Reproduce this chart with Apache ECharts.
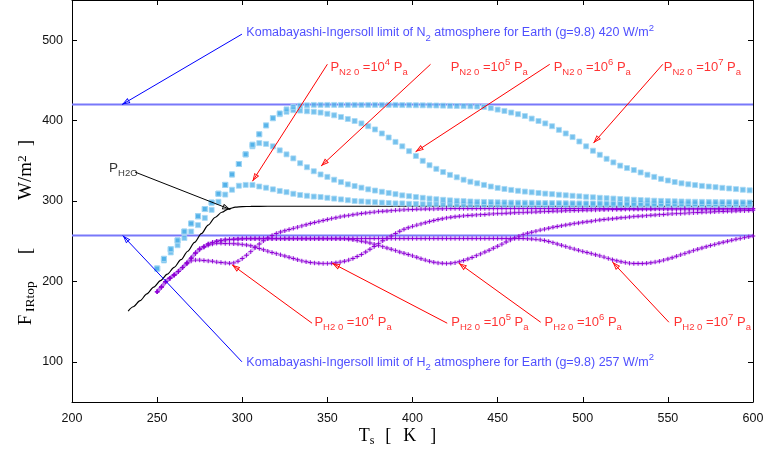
<!DOCTYPE html>
<html><head><meta charset="utf-8">
<script src="https://cdn.jsdelivr.net/npm/echarts@6/dist/echarts.min.js"></script>
<style>html,body{margin:0;padding:0;background:#fff}#c{width:767px;height:451px}</style>
</head><body><div id="c"></div>
<script>
// ---------------- DATA ----------------
const X_MIN = 200, X_MAX = 600, X_STEP = 50;
const Y_MIN = 50, Y_MAX = 550;
const Y_TICKS = [100, 200, 300, 400, 500];

// Komabayashi-Ingersoll limits (W/m^2)
const KI_N2 = 420;
const KI_H2 = 257;

// N2 atmosphere curves (cyan squares)
const TS_N2 = [250,254,258,262,266,270,274,278,282,286,290,294,298,302,306,310,314,318,322,326,
330,334,338,342,346,350,354,358,362,366,370,374,378,382,386,390,394,398,402,406,
410,414,418,422,426,430,434,438,442,446,450,454,458,462,466,470,474,478,482,486,
490,494,498,502,506,510,514,518,522,526,530,534,538,542,546,550,554,558,562,566,
570,574,578,582,586,590,594,598];
const N2_1E4 = [216,226,236,245,254,262,270,279,289,299,
308,314,319,320,320,318,316.5,314.5,312.5,311,
309,307.5,306.5,305.5,305,304,303,302,301,300,
299.5,299,298.5,298,297.5,297,297,296.5,296.5,296,
296,296,295.8,295.7,295.6,295.5,295.5,295.5,295.5,295.5,
295.5,295.5,295.5,295.5,295.5,295.5,295.4,295.4,295.4,295.4,
295.4,295.4,295.4,295.4,295.4,295.4,295.4,295.4,295.3,295.3,
295.3,295.3,295.3,295.3,295.3,295.3,295.3,295.3,295.2,295.2,
295.2,295.2,295.2,295.2,295.2,295.2,295.2,295.2];
const N2_1E5 = [216,228,240,251,262,272,281,290,298,309,
320,333,346,358,368,372,371,368,363,358,
353,347,342,337,333,330,326.5,323.5,320.7,318.6,
316.6,314.5,313,311.5,310,308.5,307,306,305,304,
303,302.2,301.5,300.8,300.2,299.8,299.4,299,298.8,298.6,
298.4,298.2,298,297.9,297.8,297.7,297.6,297.5,297.4,297.3,
297.2,297.1,297,297,296.9,296.9,296.8,296.8,296.7,296.7,
296.6,296.6,296.5,296.5,296.5,296.4,296.4,296.4,296.3,296.3,
296.3,296.2,296.2,296.2,296.1,296.1,296.1,296];
const N2_1E6 = [216,228,240,251,262,272,281,290,298,309,
320,333,346,358,370,383,394,403,408,411,
413,412.5,411.6,411,410,408.5,406.6,404.5,402,399.5,
396.5,393,389,384,379,373.5,368,362,356,350,
344.5,340,336,332.5,329.5,326.5,324,322,320,318,
316.3,315,313.8,312.7,311.7,310.8,310,309.2,308.5,307.8,
307.1,306.5,305.8,305.2,304.6,304,303.5,303,302.5,302,
301.6,301.2,300.8,300.4,300.1,299.8,299.6,299.4,299.2,299,
298.9,298.8,298.7,298.6,298.5,298.4,298.3,298.2];
const N2_1E7 = [216,228,240,251,262,272,281,290,298,309,
320,333,346,358,370,383,394,403,409,414,
417,418.5,419,419.5,419.5,419.5,419.5,419.5,419.5,419.5,
419.5,419.5,419.5,419.5,419.5,419.5,419.3,419.2,419.1,419,
418.9,418.8,418.6,418.4,418.2,418,417.8,417.5,417,415.5,
413.7,412,410,408,405.7,402.5,399.5,396.5,393,388.5,
384,379.5,374,368,362.5,357.5,352.5,348,344,341,
338.5,335.5,332.7,330,327.5,325.5,323.6,322,320.8,319.8,
318.8,318,317.2,316.4,315.6,314.8,314,313.3];

// H2O atmosphere curves (purple crosses)
const TS_H2O = [250,252.5,255,257.5,260,262.5,265,267.5,270,272.5,275,277.5,280,282.5,285,287.5,290,292.5,295,297.5,
300,302.5,305,307.5,310,312.5,315,317.5,320,322.5,325,327.5,330,332.5,335,337.5,340,342.5,345,347.5,
350,352.5,355,357.5,360,362.5,365,367.5,370,372.5,375,377.5,380,382.5,385,387.5,390,392.5,395,397.5,
400,402.5,405,407.5,410,412.5,415,417.5,420,422.5,425,427.5,430,432.5,435,437.5,440,442.5,445,447.5,
450,452.5,455,457.5,460,462.5,465,467.5,470,472.5,475,477.5,480,482.5,485,487.5,490,492.5,495,497.5,
500,502.5,505,507.5,510,512.5,515,517.5,520,522.5,525,527.5,530,532.5,535,537.5,540,542.5,545,547.5,
550,552.5,555,557.5,560,562.5,565,567.5,570,572.5,575,577.5,580,582.5,585,587.5,590,592.5,595,597.5,600];
const H2O_1E4 = [187,193,199.5,204,208,212.5,217.5,222,225.5,226.5,
226.5,226,225.5,225,224,223.5,223,222.5,223,225,
228.5,232.5,237,242,246.5,250.5,254,257,259.5,261.5,
263,264.5,266,267.5,269,270.5,272,273.3,274.6,275.8,
277,278.1,279.2,280.3,281.3,282.1,282.9,283.7,284.4,285,
285.6,286.2,286.8,287.2,287.6,288,288.4,288.7,289,289.3,
289.5,289.7,289.9,290,290.1,290.2,290.3,290.4,290.5,290.6,
290.6,290.6,290.6,290.6,290.6,290.6,290.6,290.6,290.6,290.6,
290.6,290.6,290.6,290.6,290.6,290.6,290.6,290.6,290.6,290.7,
290.7,290.7,290.7,290.7,290.7,290.7,290.7,290.7,290.7,290.7,
290.7,290.7,290.7,290.7,290.7,290.7,290.7,290.7,290.7,290.7,
290.7,290.7,290.7,290.8,290.8,290.8,290.8,290.8,290.8,290.8,
290.8,290.8,290.8,290.8,290.8,290.8,290.8,290.8,290.8,290.8,
290.8,290.8,290.8,290.8,290.8,290.8,290.8,290.8,290.8,290.8,290.8];
const H2O_1E5 = [187,193,199.5,204,208,212.5,217.5,223,229,234.5,
239.5,242.5,245,246.5,247.3,247.4,247.2,247,246.8,246.5,
246,245.3,244.3,242.8,241,239.3,237.6,236,234.5,233,
231.5,230,228.5,227,225.5,224.5,223.6,223,222.6,222.4,
222.4,222.6,223.2,224,225,226.5,228.5,231,233.5,236.5,
240,243.5,247,250.5,253.5,256.5,259.5,262.3,264.8,266.8,
268.5,270,271.5,273,274.5,275.8,277,278,279,279.8,
280.5,281,281.5,281.9,282.3,282.7,283,283.3,283.7,284,
284.3,284.6,284.8,285.1,285.3,285.5,285.8,286,286.2,286.4,
286.6,286.8,287,287.2,287.4,287.6,287.8,288,288.1,288.3,
288.5,288.6,288.7,288.9,289,289.1,289.3,289.4,289.5,289.5,
289.6,289.6,289.7,289.7,289.8,289.8,289.8,289.9,289.9,289.9,
289.9,289.9,289.9,289.9,289.9,289.9,289.9,289.9,289.9,290,
290,290,290,290,290,290,290,290,290,290,290];
const H2O_1E6 = [187,193,199.5,204,208,212.5,217.5,223,229,235.5,
240.5,243.5,246.5,248.5,250,251,251.7,252.2,252.5,252.8,
253,253,253,253,253,253,253,253,253,253,
253,253,253,253,253,253,253,253,253,253,
253,253,253,253,253,252.5,251.8,251,250,249,
247.8,246.3,244.8,243.2,241.6,240,238.3,236.6,235,233.4,
231.8,230,228.2,226.5,225,223.8,223,222.5,222.4,222.6,
223.3,224.4,226,227.8,229.8,232,234.2,236.5,238.8,241.3,
243.8,246.3,249,251.6,254,256.3,258.2,259.8,261.2,262.5,
263.8,265,266.2,267.3,268.3,269.3,270.2,271.1,271.9,272.7,
273.5,274.2,274.9,275.6,276.3,276.9,277.5,278,278.6,279.1,
279.6,280.1,280.6,281,281.4,281.8,282.2,282.6,283,283.3,
283.7,284,284.3,284.6,284.9,285.2,285.5,285.7,286,286.2,
286.4,286.6,286.8,287,287.2,287.4,287.6,287.8,288,288.1,288.3];
const H2O_1E7 = [187,193,199.5,204,208,212.5,217.5,223,229,235.5,
240.5,243.5,246.5,248.5,250,251,251.7,252.2,252.5,252.8,
253,253.3,253.3,253.3,253.3,253.3,253.3,253.3,253.3,253.3,
253.3,253.3,253.3,253.3,253.3,253.3,253.3,253.3,253.3,253.3,
253.3,253.3,253.3,253.3,253.3,253.3,253.3,253.3,253.3,253.3,
253.3,253.3,253.3,253.3,253.3,253.3,253.3,253.3,253.3,253.3,
253.3,253.3,253.3,253.3,253.3,253.3,253.3,253.3,253.3,253.3,
253.3,253.3,253.3,253.3,253.3,253.3,253.3,253.3,253.3,253.3,
253.3,253.3,253.3,253.3,253.3,253.3,253.3,253,252.7,252.3,
251.7,250.8,249.6,248.2,246.6,245,243.3,241.7,240.2,238.7,
237.3,236,234.6,233.2,231.8,230.2,228.6,227,225.6,224.4,
223.4,222.7,222.3,222.2,222.3,222.6,223.2,224,225.1,226.4,
227.9,229.5,231.2,233,234.8,236.6,238.3,240,241.6,243.1,
244.6,246,247.4,248.7,250,251.2,252.4,253.5,254.5,255.5,256.4];

// P_H2O curve (black line)
const PH2O_T = [233,236,240,244,248,252,256,260,264,268,272,276,280,284,288,292,296,300,305,310,320,350,400,500,600];
const PH2O_V = [163,168.5,176,184.5,193,201,209,217.5,227,237.5,248.5,259.5,270,279.5,286,290.3,292.3,293,293.3,293.4,293.5,293.5,293.5,293.5,293.5];

// ---------------- ANNOTATIONS ----------------
const SANS = '"Liberation Sans", Arial, Helvetica, sans-serif';
const SERIF = '"Liberation Serif", "Times New Roman", serif';
const RED = '#ff0000', BLUE = '#2222ff', BLACK = '#000000';

const n2Lab = e => `{m|P}{sub|N2 0}{m| =10}{sup|${e}}{m| P}{sub|a}`;
const h2oLab = e => `{m|P}{sub|H2 0}{m| =10}{sup|${e}}{m| P}{sub|a}`;

const LABELS = [
  {at:[351.8,466.4], text:n2Lab(4), color:RED, fs:13},
  {at:[422.4,466.4], text:n2Lab(5), color:RED, fs:13},
  {at:[482.9,466.4], text:n2Lab(6), color:RED, fs:13},
  {at:[547.6,466.4], text:n2Lab(7), color:RED, fs:13},
  {at:[342.4,149.4], text:h2oLab(4), color:RED, fs:13},
  {at:[422.8,149.4], text:h2oLab(5), color:RED, fs:13},
  {at:[477.6,149.4], text:h2oLab(6), color:RED, fs:13},
  {at:[553.4,149.4], text:h2oLab(7), color:RED, fs:13},
  {at:[221.8,340.6], text:'{m|P}{sub|H2O}', color:BLACK, fs:13.5},
  {at:[302.4,509], text:'{m|Komabayashi-Ingersoll limit of N}{sub|2}{m| atmosphere for Earth (g=9.8) 420 W/m}{sup|2}', color:BLUE, fs:12.5},
  {at:[302.4,99.4], text:'{m|Komabayashi-Ingersoll limit of H}{sub|2}{m| atmosphere for Earth (g=9.8) 257 W/m}{sup|2}', color:BLUE, fs:12.5}
];
const ARROWS_RED = [
  [[350,470.1],[306,324.6]],
  [[410.6,470],[346.3,343.5]],
  [[480.6,470],[401.8,361.2]],
  [[547,470],[506.3,372]],
  [[341,148],[294,220.7]],
  [[420.4,148],[352.8,222.7]],
  [[475.3,149.2],[427.2,222.7]],
  [[550.6,149.2],[517.5,224]]
];
const ARROWS_BLUE = [
  [[299.8,507.5],[229.4,420]],
  [[299.8,100],[229.8,257]]
];
const ARROWS_BLACK = [
  [[237,336],[293,289.5]]
];

// ---------------- STYLE HELPERS ----------------
function rich(color, fs, ss, fam, lh) {
  return {
    m:   {color, fontSize: fs, fontFamily: fam, lineHeight: lh},
    sub: {color, fontSize: ss, fontFamily: fam, lineHeight: ss + 1, verticalAlign: 'bottom'},
    sup: {color, fontSize: ss, fontFamily: fam, lineHeight: ss + 1, verticalAlign: 'top'}
  };
}
function axisRich(fs, ss, widths, fw) {
  const r = rich('#000', fs, ss, SERIF, 22);
  Object.keys(widths).forEach(k => {
    r[k] = {color: '#000', fontSize: fs, fontFamily: SERIF, lineHeight: 22, width: widths[k]};
  });
  r.f = {color: '#000', fontSize: fs, fontFamily: SERIF, lineHeight: 22, width: fw};
  return r;
}
// hollow arrow head, tip at symbol centre
const HEAD = 'path://M0,0L0,0M20,0L20,0M10,10L13.6,20L6.4,20Z M10,13L7.9,19L12.1,19Z';

const zip = (xs, ys) => xs.map((x, i) => [x, ys[i]]);

const cyanSeries = [N2_1E4, N2_1E5, N2_1E6, N2_1E7].map(v => ({
  type: 'scatter', data: zip(TS_N2, v), symbol: 'rect', symbolSize: 5, z: 5, silent: true,
  itemStyle: {color: '#52b1e8', borderColor: '#a9d9f5', borderWidth: 1}
}));
const purpleSeries = [H2O_1E4, H2O_1E5, H2O_1E6, H2O_1E7].map(v => ({
  type: 'line', data: zip(TS_H2O, v), showAllSymbol: true, z: 4, silent: true,
  symbol: 'path://M2,0L3,0L3,2L5,2L5,3L3,3L3,5L2,5L2,3L0,3L0,2L2,2Z', symbolSize: 4.5,
  itemStyle: {color: '#9000d6'},
  lineStyle: {color: 'rgba(175,95,230,0.4)', width: 3.5}
}));
const arrowSeries = (list, color) => ({
  type: 'lines', coordinateSystem: 'cartesian2d', z: 8, silent: true,
  symbol: ['none', HEAD], symbolSize: [10, 16],
  lineStyle: {color, width: 1, opacity: 1, curveness: 0},
  data: list.map(c => ({coords: c}))
});

const option = {
  animation: false,
  backgroundColor: '#ffffff',
  grid: {left: 72, right: 14, top: 0, bottom: 49, containLabel: false, outerBoundsMode: 'none'},
  xAxis: [{
    type: 'value', min: X_MIN, max: X_MAX, interval: X_STEP, position: 'bottom',
    axisLine: {show: true, onZero: false, lineStyle: {color: '#000', width: 1}},
    axisTick: {show: true, inside: true, length: 5, lineStyle: {color: '#000'}},
    axisLabel: {color: '#111', fontSize: 12.5, fontFamily: SANS, margin: 10},
    splitLine: {show: false},
    name: '{m|T}{sub|s}{g1| }{m|[}{g2| }{m|K}{g3| }{m|]}', nameLocation: 'middle', nameGap: 23, nameMoveOverlap: false,
    nameTextStyle: {padding: [0, 30, 0, 0], rich: axisRich(18, 12, {g1: 11, g2: 12, g3: 14}, 11)}
  }, {
    type: 'value', min: X_MIN, max: X_MAX, interval: X_STEP, position: 'top',
    axisLine: {show: true, onZero: false, lineStyle: {color: '#000', width: 1}},
    axisTick: {show: true, inside: true, length: 5, lineStyle: {color: '#000'}},
    axisLabel: {show: false}, splitLine: {show: false}
  }],
  yAxis: [{
    type: 'value', min: Y_MIN, max: Y_MAX, position: 'left',
    axisLine: {show: true, onZero: false, lineStyle: {color: '#000', width: 1}},
    axisTick: {show: true, inside: true, length: 5, customValues: Y_TICKS, lineStyle: {color: '#000'}},
    axisLabel: {color: '#111', fontSize: 12.5, fontFamily: SANS, margin: 9, customValues: Y_TICKS},
    splitLine: {show: false},
    name: '{f|F}{sub|IRtop}{g1| }{m|[}{g2| }{m|W/m}{sup|2}{g3| }{m|]}', nameLocation: 'middle', nameRotate: 90, nameGap: 35, nameMoveOverlap: false,
    nameTextStyle: {padding: [0, 66, 0, 0], rich: axisRich(19, 13.5, {g1: 27, g2: 48, g3: 9}, 16)}
  }, {
    type: 'value', min: Y_MIN, max: Y_MAX, position: 'right',
    axisLine: {show: true, onZero: false, lineStyle: {color: '#000', width: 1}},
    axisTick: {show: true, inside: true, length: 5, customValues: Y_TICKS, lineStyle: {color: '#000'}},
    axisLabel: {show: false}, splitLine: {show: false}
  }],
  series: [
    {type: 'line', data: [[X_MIN, KI_N2], [X_MAX, KI_N2]], symbol: 'none', z: 2, silent: true,
     lineStyle: {color: '#7878fa', width: 2}},
    {type: 'line', data: [[X_MIN, KI_H2], [X_MAX, KI_H2]], symbol: 'none', z: 2, silent: true,
     lineStyle: {color: '#7878fa', width: 2}},
    {type: 'line', data: zip(PH2O_T, PH2O_V), symbol: 'none', smooth: 0.3, smoothMonotone: 'x', z: 3, silent: true,
     lineStyle: {color: '#000', width: 1.2}},
    ...purpleSeries,
    ...cyanSeries,
    arrowSeries(ARROWS_RED, RED),
    arrowSeries(ARROWS_BLUE, '#0000ff'),
    arrowSeries(ARROWS_BLACK, BLACK),
    {type: 'scatter', symbolSize: 0, z: 9, silent: true,
     data: LABELS.map(a => ({
       value: a.at,
       label: {show: true, position: 'right', distance: 0, formatter: a.text,
               rich: rich(a.color, a.fs, 9.5, SANS, 20)}
     }))}
  ]
};
const chart = echarts.init(document.getElementById('c'), null, {renderer: 'canvas'});
chart.setOption(option);
</script></body></html>
